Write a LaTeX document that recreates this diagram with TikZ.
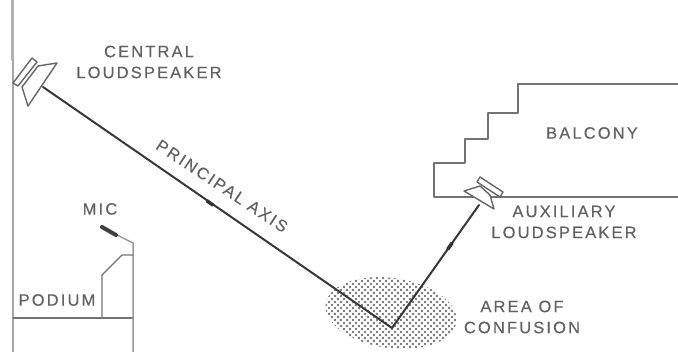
\documentclass[tikz,border=0pt]{standalone}
\usepackage{fontspec}
\newfontfamily\labelfont[LetterSpace=13,FakeBold=0.25]{Liberation Sans}
\tikzset{
  lbl/.style={text=black!62,font=\labelfont\fontsize{16.5}{21}\selectfont,align=center,inner sep=0pt},
  wall/.style={black!55,line width=1.4pt},
  axisline/.style={black!78,line width=2pt},
  spk/.style={black!60,line width=1.4pt,fill=white},
  tick/.style={rectangle,fill=black!80,inner sep=0pt,minimum width=8pt,minimum height=3.5pt},
}
\begin{document}
\begin{tikzpicture}[x=1pt, y=-1pt, line cap=round, line join=round]
    \useasboundingbox (0,0) rectangle (678,352);
    % room
    \draw[black!30,line width=3pt] (12,0) -- (12,60);
    \draw[black!35,line width=1.5pt] (13,60) -- (13,352);
    \draw[wall] (678,84) -- (518,84) -- (518,113) -- (488,113) -- (488,139) -- (465,139) -- (465,163) -- (434,163) -- (434,197) -- (678,197);
    % podium
    \draw[wall] (13,318) -- (133,318);
    \draw[black!40,line width=1.5pt] (133,352) -- (133,243) -- (117,235);
    \draw[wall] (102,318) -- (102,275) -- (122,255) -- (133,255);
    \draw[black!75,line width=4pt] (102,227) -- (116,235);
    % area
    \begin{scope}
      \clip[rotate around={-8:(391,313)}] (391,313) ellipse [x radius=66, y radius=35];
      \foreach \i in {0,...,24} \foreach \j in {0,...,12}
        \foreach \dx/\dy in {0/0,3/3} \fill[black!55] ({320+6*\i+\dx},{275+6*\j+\dy}) circle (1.4pt);
    \end{scope}
    % speakers
    \draw[spk] (38,66) -- (57,63) -- (28,106) -- (22,87) -- cycle;
    \draw[spk] (13,83) -- (32,58) -- (37,62) -- (18,86) -- cycle;
    \draw[spk] (464,191) -- (480,186) -- (490,195) -- (494,209) -- cycle;
    \draw[spk] (480,177) -- (503,192) -- (500,197) -- (477,182) -- cycle;
    % rays
    \coordinate (central) at (43,87);
    \coordinate (apex) at (392,328);
    \coordinate (aux) at (479,205);
    \draw[axisline] (central) -- (apex) -- (aux);
    \node[tick,rotate=-35] (tickaxis) at (210,203) {};
    \node[tick,rotate=55] (tickaux) at (450,246) {};
    % labels
    \node[lbl] (lblcentral) at (149,62) {CENTRAL\\LOUDSPEAKER};
    \node[lbl,rotate=-33.5] (lblaxis) at (222,186) {PRINCIPAL AXIS};
    \node[lbl] (lblmic) at (100,209) {MIC};
    \node[lbl] (lblpodium) at (57,300) {PODIUM};
    \node[lbl] (lblbalcony) at (592,133) {BALCONY};
    \node[lbl] (lblaux) at (564,222) {AUXILIARY\\LOUDSPEAKER};
    \node[lbl] (lblarea) at (522,317) {AREA OF\\CONFUSION};
\end{tikzpicture}
\end{document}
